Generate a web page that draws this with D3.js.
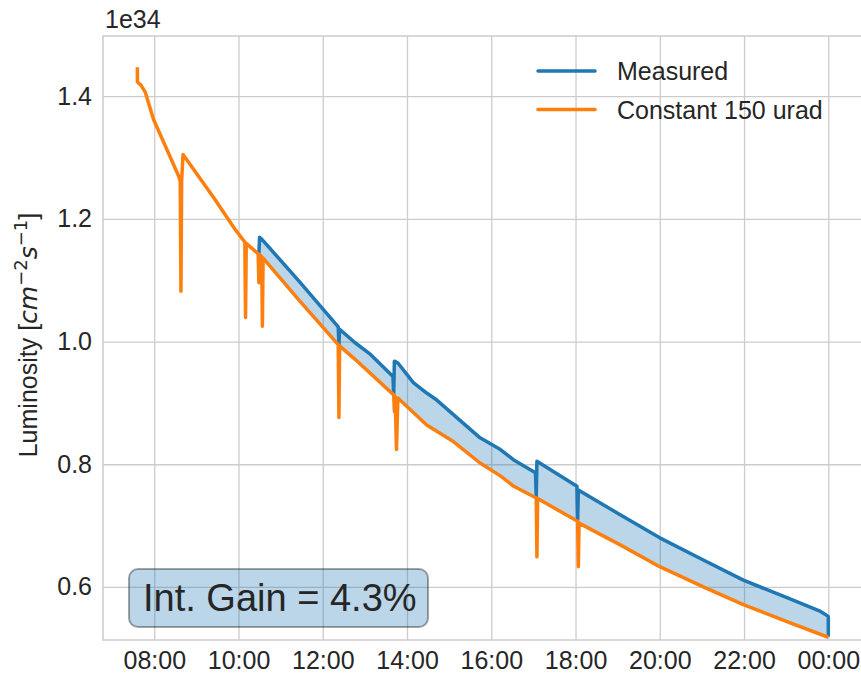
<!DOCTYPE html>
<html>
<head>
<meta charset="utf-8">
<script src="https://cdn.jsdelivr.net/npm/d3@7"></script>
<style>
  html, body { margin: 0; padding: 0; background: #fff; }
  svg { display: block; font-family: "Liberation Sans", Arial, sans-serif; }
</style>
</head>
<body>
<svg id="chart" width="861" height="674"></svg>
<script>
// luminosity in units of 1e34 cm^-2 s^-1, times as HH:MM (after midnight = next day)
const constTimes = ["07:36","07:36","07:41","07:47","07:59","08:18","08:35","08:37","08:38","08:39","08:41",
	"09:25","09:55","10:09","10:10","10:11","10:28","10:29","10:30","10:33","10:34","10:35","11:28",
	"12:22","12:23","12:24","12:46","13:41","13:42","13:43","13:45","13:47","14:28","15:06","15:44",
	"16:13","16:32","17:04","17:05","17:06","18:03","18:04","18:05","19:03","20:00","21:02","21:59",
	"23:02","00:00"]
const constValues = [1.447,1.423,1.418,1.407,1.362,1.313,1.269,1.261,1.082,1.262,1.305,
	1.234,1.183,1.162,1.039,1.160,1.143,1.096,1.142,1.138,1.025,1.136,1.065,
	0.995,0.876,0.993,0.971,0.913,0.886,0.910,0.824,0.908,0.864,0.837,0.802,
	0.781,0.764,0.745,0.649,0.744,0.707,0.633,0.704,0.669,0.633,0.600,0.571,
	0.543,0.518]

const measTimes = ["10:29","10:30","10:33","11:28","12:22","12:23","12:24","12:46","13:08","13:40",
	"13:41","13:42","13:47","14:09","14:28","14:42","15:44","16:13","16:32","17:03","17:04","17:05",
	"18:02","18:03","18:04","19:03","20:00","21:02","21:59","23:02","23:49","00:00","00:00"]
const measValues = [1.142,1.170,1.167,1.096,1.024,0.995,1.020,0.998,0.979,0.943,
	0.913,0.968,0.965,0.933,0.916,0.905,0.843,0.824,0.807,0.786,0.747,0.805,
	0.764,0.709,0.758,0.718,0.680,0.644,0.611,0.582,0.560,0.552,0.519]

const yTicks = [0.6, 0.8, 1.0, 1.2, 1.4]
const xLimits = ["06:47", "00:48"]
const yLimits = [0.5135, 1.498]
const seriesNames = ["Measured", "Constant 150 urad"]
const gainText = "Int. Gain = 4.3%"

const colors = {measured: "#1f77b4", constant: "#ff7f0e"}
const margin = {top: 36, right: -1, bottom: 34, left: 103}
const W = 861, H = 674
const width = W - margin.left - margin.right
const height = H - margin.top - margin.bottom
const textColor = "#262626"

function toDate(s) {
	const [h, m] = s.split(":").map(Number)
	return new Date(2018, 0, 1, h < 6 ? h + 24 : h, m)
}

const constData = constTimes.map((t, i) => ({date: toDate(t), value: constValues[i]}))
const measData = measTimes.map((t, i) => ({date: toDate(t), value: measValues[i]}))

const svg = d3.select("#chart")
const g = svg.append("g").attr("transform", "translate(" + margin.left + "," + margin.top + ")")

const x = d3.scaleTime().domain(xLimits.map(toDate)).range([0, width])
const y = d3.scaleLinear().domain(yLimits).range([height, 0])

// grid + ticks
const xAxis = g.append("g")
	.attr("transform", "translate(0," + height + ")")
	.call(d3.axisBottom(x).ticks(d3.timeHour.every(2)).tickFormat(d3.timeFormat("%H:%M"))
		.tickSize(-height).tickPadding(12))
const yAxis = g.append("g")
	.call(d3.axisLeft(y).tickValues(yTicks).tickFormat(d3.format(".1f"))
		.tickSize(-width).tickPadding(11))
for (const ax of [xAxis, yAxis]) {
	ax.select(".domain").remove()
	ax.selectAll("line").attr("stroke", "#cccccc").attr("stroke-width", 1.3)
	ax.selectAll("text").attr("fill", textColor).attr("font-size", 25)
		.attr("font-family", "'Liberation Sans', Arial, sans-serif")
}
xAxis.selectAll("text").attr("dy", "0.68em")

// spines
g.append("rect")
	.attr("x", 0).attr("y", 0).attr("width", width).attr("height", height)
	.attr("fill", "none").attr("stroke", "#cccccc").attr("stroke-width", 1.5)

// fill between measured and constant
const fillPts = measData.map(d => [x(d.date), y(d.value)])
	.concat(constData.filter(d => d.date >= measData[0].date).reverse().map(d => [x(d.date), y(d.value)]))
g.append("path")
	.attr("d", "M" + fillPts.join("L") + "Z")
	.attr("fill", colors.measured).attr("fill-opacity", 0.3)

const line = d3.line().x(d => x(d.date)).y(d => y(d.value))
g.append("path").datum(measData)
	.attr("d", line).attr("fill", "none")
	.attr("stroke", colors.measured).attr("stroke-width", 3.5).attr("stroke-linejoin", "round")
g.append("path").datum(constData)
	.attr("d", line).attr("fill", "none")
	.attr("stroke", colors.constant).attr("stroke-width", 3.5).attr("stroke-linejoin", "round")

// offset text
svg.append("text").attr("x", 105).attr("y", 28)
	.attr("font-size", 25).attr("fill", textColor).text("1e34")

// y label
const yl = svg.append("text")
	.attr("transform", "translate(37,335) rotate(-90)")
	.attr("text-anchor", "middle").attr("font-size", 25).attr("fill", textColor)
yl.append("tspan").text("Luminosity [")
yl.append("tspan").attr("font-family", "'DejaVu Sans'").attr("font-style", "italic").text("cm")
yl.append("tspan").attr("font-family", "'DejaVu Sans'").attr("font-size", 18).attr("dy", -10).text("\u22122")
yl.append("tspan").attr("font-family", "'DejaVu Sans'").attr("font-style", "italic").attr("dy", 10).text("s")
yl.append("tspan").attr("font-family", "'DejaVu Sans'").attr("font-size", 18).attr("dy", -10).text("\u22121")
yl.append("tspan").attr("dy", 10).text("]")

// legend
const legend = svg.append("g").attr("transform", "translate(538,71)")
seriesNames.forEach((name, i) => {
	const row = legend.append("g").attr("transform", "translate(0," + i * 38.5 + ")")
	row.append("line").attr("x1", 0).attr("x2", 57)
		.attr("stroke", i === 0 ? colors.measured : colors.constant)
		.attr("stroke-width", 3.5).attr("stroke-linecap", "round")
	row.append("text").attr("x", 79).attr("y", 9)
		.attr("font-size", 25).attr("fill", textColor).text(name)
})

// gain box
svg.append("rect")
	.attr("x", 129).attr("y", 569).attr("width", 299).attr("height", 58).attr("rx", 9)
	.attr("fill", colors.measured).attr("fill-opacity", 0.3)
	.attr("stroke", "#000").attr("stroke-opacity", 0.35).attr("stroke-width", 2)
svg.append("text").attr("x", 143).attr("y", 611)
	.attr("font-size", 38).attr("fill", textColor).text(gainText)
</script>
</body>
</html>
